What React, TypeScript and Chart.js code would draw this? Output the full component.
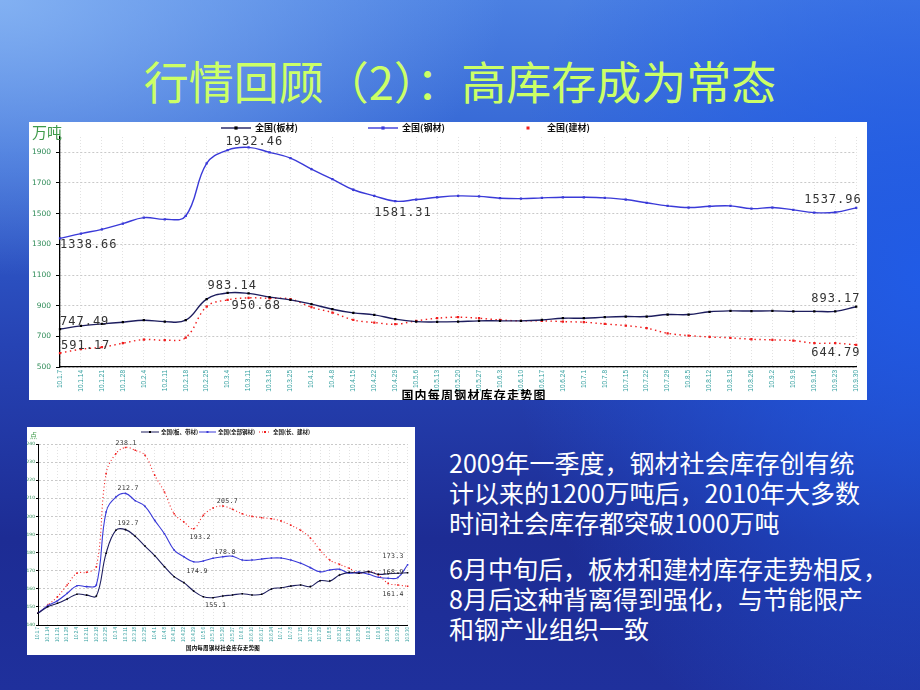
import React, { useEffect, useRef } from 'react';
import { Chart, registerables } from 'chart.js';
Chart.register(...registerables);

// ---------- data ----------
const weeks = [
  '10.1.7', '10.1.14', '10.1.21', '10.1.28', '10.2.4', '10.2.11', '10.2.18', '10.2.25',
  '10.3.4', '10.3.11', '10.3.18', '10.3.25', '10.4.1', '10.4.8', '10.4.15', '10.4.22', '10.4.29',
  '10.5.6', '10.5.13', '10.5.20', '10.5.27', '10.6.3', '10.6.10', '10.6.17', '10.6.24',
  '10.7.1', '10.7.8', '10.7.15', '10.7.22', '10.7.29', '10.8.5', '10.8.12', '10.8.19', '10.8.26',
  '10.9.2', '10.9.9', '10.9.16', '10.9.23', '10.9.30',
];

const topNames = ['全国(板材)', '全国(钢材)', '全国(建材)'];
const topPlate = [747.49, 768, 781, 792, 805, 796, 805, 943, 983.14, 980, 956, 938, 910, 877, 853, 840, 812, 796, 794, 796, 801, 801, 801, 807, 818, 818, 825, 829, 829, 842, 842, 860, 866, 865, 866, 863, 863, 863, 893.17];
const topSteel = [1338.66, 1370, 1398, 1435, 1474, 1463, 1485, 1828, 1915, 1932.46, 1900, 1862, 1790, 1725, 1656, 1616, 1581.31, 1592, 1607, 1616, 1613, 1601, 1598, 1603, 1607, 1607, 1603, 1592, 1571, 1551, 1540, 1548, 1551, 1533, 1540, 1525, 1507, 1509, 1537.96];
const topRebar = [591.17, 616, 629, 655, 679, 675, 692, 894, 938, 950.68, 948, 943, 890, 855, 807, 790, 779, 801, 818, 825, 818, 807, 801, 801, 796, 792, 781, 770, 753, 720, 705, 696, 690, 681, 677, 672, 655, 655, 644.79];
const topYTicks = [500, 700, 900, 1100, 1300, 1500, 1700, 1900];
const topUnit = '万吨';
const topTitle = '国内每周钢材库存走势图';

const botNames = ['全国(板、带材)', '全国(全部钢材)', '全国(长、建材)'];
const botPlate = [146.5, 150.1, 152, 154.4, 157, 156.5, 156, 179.6, 192.3, 192.7, 189, 183.6, 178.3, 172.2, 166.7, 163.4, 158.8, 155.6, 155.1, 156, 156.6, 157.3, 156.6, 157, 159.9, 160.6, 161.5, 162.1, 161.2, 164.5, 164.3, 167.6, 169.1, 168.6, 169.5, 168, 168.3, 168.6, 168.9];
const botSteel = [146.5, 150.7, 153.4, 157.5, 161.7, 161.2, 162.1, 202.4, 210.7, 212.7, 208.7, 205.6, 197.8, 190.4, 181.4, 177.7, 174.9, 175.4, 176.9, 177.7, 178.0, 175.9, 175.9, 176.5, 177, 177, 175.9, 174.1, 171.7, 169.4, 170.4, 170.8, 168.6, 169.2, 168, 166.4, 165.8, 166.2, 173.3];
const botRebar = [146.5, 151, 155.6, 162.1, 168.6, 169.1, 172.2, 223.6, 234.6, 238.1, 236.5, 233.8, 222.7, 213.5, 201.5, 196.9, 193.2, 200.6, 204.6, 205.7, 203.9, 201.5, 200, 199.3, 198.7, 197.5, 195.1, 192.3, 188.1, 181.4, 175.9, 173.5, 171.3, 168.6, 169.5, 167.6, 163, 162.1, 161.4];
const botYTicks = [140, 150, 160, 170, 180, 190, 200, 210, 220, 230, 240];
const botUnit = '点';
const botTitle = '国内每周钢材社会库存走势图';

const slideTitle = '行情回顾（2）：高库存成为常态';
const para1 = ['2009年一季度，钢材社会库存创有统', '计以来的1200万吨后，2010年大多数', '时间社会库存都突破1000万吨'];
const para2 = ['6月中旬后，板材和建材库存走势相反，', '8月后这种背离得到强化，与节能限产', '和钢产业组织一致'];

// value annotations: dataset index, point index, text (offsets are layout)
const topNotes = [
  { ds: 1, idx: 9, text: '1932.46', dx: -23, dy: -5 },
  { ds: 1, idx: 16, text: '1581.31', dx: -21, dy: 12 },
  { ds: 1, idx: 0, text: '1338.66', dx: 0, dy: 6 },
  { ds: 1, idx: 38, text: '1537.96', dx: -52, dy: -8 },
  { ds: 0, idx: 8, text: '983.14', dx: -20, dy: -7 },
  { ds: 2, idx: 9, text: '950.68', dx: -17, dy: 8 },
  { ds: 0, idx: 0, text: '747.49', dx: 0, dy: -7 },
  { ds: 2, idx: 0, text: '591.17', dx: 1, dy: -7 },
  { ds: 0, idx: 38, text: '893.17', dx: -45, dy: -8 },
  { ds: 2, idx: 38, text: '644.79', dx: -45, dy: 8 },
];
const botNotes = [
  { ds: 2, idx: 9, text: '238.1', dx: -10, dy: -4 },
  { ds: 1, idx: 9, text: '212.7', dx: -8, dy: -5 },
  { ds: 0, idx: 9, text: '192.7', dx: -8, dy: -6 },
  { ds: 2, idx: 16, text: '193.2', dx: -4, dy: 9 },
  { ds: 2, idx: 19, text: '205.7', dx: -6, dy: -5 },
  { ds: 1, idx: 16, text: '174.9', dx: -7, dy: 9 },
  { ds: 1, idx: 20, text: '178.0', dx: -18, dy: -4 },
  { ds: 0, idx: 18, text: '155.1', dx: -8, dy: 8 },
  { ds: 1, idx: 38, text: '173.3', dx: -25, dy: -8 },
  { ds: 0, idx: 38, text: '168.9', dx: -25, dy: 0 },
  { ds: 2, idx: 38, text: '161.4', dx: -25, dy: 8 },
];

const BLACK = '#1d1d5e';
const BLUE = '#3a3ad8';
const RED = '#f01c1c';

type Cfg = {
  names: string[];
  series: number[][];
  yTicks: number[];
  min: number;
  max: number;
  notes: { ds: number; idx: number; text: string; dx: number; dy: number }[];
  unit: string;
  title: string;
  small: boolean;
};

function makeChart(canvas: HTMLCanvasElement, c: Cfg) {
  const s = c.small;
  const cols = [BLACK, BLUE, RED];
  const datasets = c.series.map((d, i) => ({
    label: c.names[i],
    data: d,
    borderColor: cols[i],
    borderWidth: s ? 1.1 : 1.4,
    borderDash: i === 2 ? (s ? [1, 2.5] : [1.5, 3.5]) : [],
    pointStyle: 'rect',
    pointRadius: s ? 1.1 : 1.6,
    pointBackgroundColor: i === 0 ? '#000' : cols[i],
    pointBorderColor: i === 0 ? '#000' : cols[i],
    pointBorderWidth: 0,
    tension: 0.4,
    fill: false,
  }));

  const overlay = {
    id: 'overlay',
    afterDatasetsDraw(chart: any) {
      const ctx = chart.ctx;
      ctx.save();
      ctx.font = s ? '6.5px "DejaVu Sans Mono"' : '12px "DejaVu Sans Mono"';
      ctx.fillStyle = '#333';
      ctx.textBaseline = 'middle';
      ctx.textAlign = 'left';
      (ctx as any).letterSpacing = s ? '0.3px' : '1px';
      c.notes.forEach((n) => {
        const el = chart.getDatasetMeta(n.ds).data[n.idx];
        ctx.fillText(n.text, el.x + n.dx, el.y + n.dy);
      });
      ctx.restore();
    },
    afterDraw(chart: any) {
      const ctx = chart.ctx;
      ctx.save();
      (ctx as any).letterSpacing = '0px';
      // legend
      const legY = s ? 5 : 6;
      const items = s
        ? [{ x: 114, w: 18, t: 134 }, { x: 172, w: 17, t: 191 }, { x: 232, w: 12, t: 246 }]
        : [{ x: 192, w: 30, t: 226 }, { x: 339, w: 30, t: 373 }, { x: 499, w: 0, t: 518 }];
      items.forEach((it, i) => {
        ctx.strokeStyle = cols[i];
        ctx.fillStyle = i === 0 ? '#000' : cols[i];
        ctx.lineWidth = s ? 1 : 1.4;
        if (it.w > 0) {
          ctx.setLineDash(i === 2 ? [1, 2] : []);
          ctx.beginPath();
          ctx.moveTo(it.x, legY);
          ctx.lineTo(it.x + it.w, legY);
          ctx.stroke();
          ctx.setLineDash([]);
          const r = s ? 1 : 1.6;
          ctx.fillRect(it.x + it.w / 2 - r, legY - r, 2 * r, 2 * r);
        } else {
          ctx.fillRect(it.x - 1.5, legY - 1.5, 3, 3);
        }
        ctx.fillStyle = '#111';
        ctx.font = s ? 'bold 5.5px "Noto Sans CJK SC"' : 'bold 9px "Noto Sans CJK SC"';
        ctx.textBaseline = 'middle';
        ctx.textAlign = 'left';
        ctx.fillText(c.names[i], it.t, legY);
      });
      // unit
      ctx.fillStyle = '#3f9a4a';
      ctx.font = s ? '7px "Noto Sans CJK SC"' : '15px "Noto Sans CJK SC"';
      ctx.textBaseline = 'middle';
      ctx.fillText(c.unit, 3, s ? 8 : 10);
      // bottom title
      ctx.fillStyle = '#000';
      ctx.font = s ? 'bold 5.5px "Noto Sans CJK SC"' : 'bold 12px "Noto Sans CJK SC"';
      (ctx as any).letterSpacing = s ? '0.2px' : '1.2px';
      ctx.textAlign = 'center';
      ctx.fillText(c.title, s ? 196 : 445, s ? 221 : 273);
      ctx.restore();
    },
  };

  return new Chart(canvas, {
    type: 'line',
    data: { labels: weeks, datasets: datasets as any },
    options: {
      responsive: false,
      animation: false,
      devicePixelRatio: 1,
      layout: { padding: s ? { top: 17, right: 4, left: 0, bottom: 0 } : { top: 15, right: 8, left: 0, bottom: 0 } },
      plugins: { legend: { display: false }, tooltip: { enabled: false }, title: { display: false } },
      scales: {
        x: {
          type: 'category',
          offset: false,
          grid: { color: '#e2e2e2', lineWidth: 1, drawTicks: false },
          border: { color: '#000', width: s ? 1 : 1.3, dash: [1, 2] },
          ticks: {
            autoSkip: false,
            minRotation: 90,
            maxRotation: 90,
            padding: s ? 2 : 3,
            color: '#35a0a0',
            font: { size: s ? 4.5 : 6.5, family: 'Liberation Sans' },
          },
          afterFit: (sc: any) => { sc.height = s ? 30 : 33; },
        } as any,
        y: {
          min: c.min,
          max: c.max,
          grid: { color: '#c9c9c9', lineWidth: 1, tickLength: s ? 2 : 4, tickColor: '#000' },
          border: { color: '#000', width: s ? 1 : 1.3, dash: [2, 2] },
          afterBuildTicks: (sc: any) => { sc.ticks = c.yTicks.map((v) => ({ value: v })); },
          ticks: {
            padding: s ? 1 : 5,
            color: '#2e8b57',
            font: { size: s ? 4.5 : 7.5, family: 'DejaVu Sans' },
            callback: (v: any) => String(v),
          },
          afterFit: (sc: any) => { sc.width = s ? 11 : 31; },
        } as any,
      },
    },
    plugins: [overlay as any],
  });
}

export default function App() {
  const topRef = useRef<HTMLCanvasElement>(null);
  const botRef = useRef<HTMLCanvasElement>(null);

  useEffect(() => {
    const a = makeChart(topRef.current!, {
      names: topNames,
      series: [topPlate, topSteel, topRebar],
      yTicks: topYTicks,
      min: 500,
      max: 2000,
      notes: topNotes,
      unit: topUnit,
      title: topTitle,
      small: false,
    });
    const b = makeChart(botRef.current!, {
      names: botNames,
      series: [botPlate, botSteel, botRebar],
      yTicks: botYTicks,
      min: 140,
      max: 240,
      notes: botNotes,
      unit: botUnit,
      title: botTitle,
      small: true,
    });
    return () => { a.destroy(); b.destroy(); };
  }, []);

  const bg =
    'radial-gradient(ellipse 55% 40% at 0% 0%, rgba(140,185,245,0.85), rgba(140,185,245,0) 100%),' +
    'radial-gradient(ellipse 45% 75% at 100% 40%, rgba(32,92,232,0.95), rgba(32,92,232,0) 100%),' +
    'linear-gradient(180deg, #4b80e2 0%, #3466d4 22%, #2643b4 50%, #1d2c94 78%, #1f309c 100%)';

  return (
    <div style={{ position: 'absolute', left: 0, top: 0, width: 920, height: 690, overflow: 'hidden', background: bg }}>
      <div
        style={{
          position: 'absolute', left: 0, top: 57, width: 920, textAlign: 'center',
          fontFamily: '"Noto Sans CJK SC"', fontSize: 45, lineHeight: '48px', color: '#ccff66', whiteSpace: 'nowrap',
        }}
      >
        {slideTitle}
      </div>
      <div style={{ position: 'absolute', left: 29, top: 122, width: 838, height: 278, background: '#fff' }}>
        <canvas ref={topRef} width={838} height={278} style={{ display: 'block' }} />
      </div>
      <div style={{ position: 'absolute', left: 27, top: 427, width: 388, height: 228, background: '#fff' }}>
        <canvas ref={botRef} width={388} height={228} style={{ display: 'block' }} />
      </div>
      <div
        style={{
          position: 'absolute', left: 449, top: 447, fontFamily: '"Noto Sans CJK SC"', fontSize: 25,
          lineHeight: '30px', color: '#fff', whiteSpace: 'nowrap',
        }}
      >
        {para1.map((l, i) => <div key={i}>{l}</div>)}
        <div style={{ height: 16 }} />
        {para2.map((l, i) => <div key={'b' + i}>{l}</div>)}
      </div>
    </div>
  );
}
